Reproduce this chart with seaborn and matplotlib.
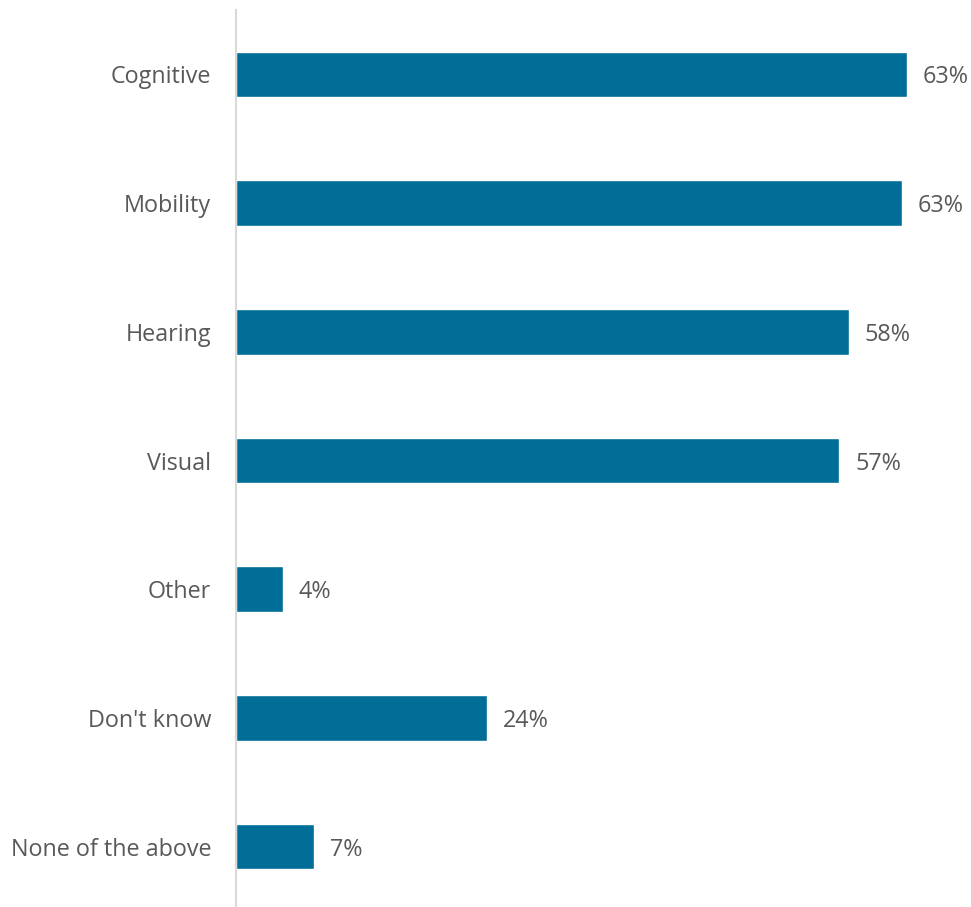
import matplotlib
matplotlib.use("Agg")
import matplotlib.pyplot as plt
import seaborn as sns
import pandas as pd

# Survey responses: share of respondents per disability type (%)
categories = ["Cognitive", "Mobility", "Hearing", "Visual", "Other",
              "Don't know", "None of the above"]
values = [63.4, 62.9, 57.9, 57.0, 4.4, 23.7, 7.4]

df = pd.DataFrame({"category": categories, "value": values})

sns.set_theme(style="white")
plt.rcParams["font.family"] = ["Open Sans", "DejaVu Sans"]

fig = plt.figure(figsize=(9.71, 9.07), dpi=100)
ax = fig.add_axes([236 / 971, -4 / 907, 719.5 / 971, 901 / 907])

bar_color = "#006E96"
text_color = "#595959"

sns.barplot(data=df, x="value", y="category", orient="h", color=bar_color,
            width=0.355, saturation=1, ax=ax)

ax.set_xlim(0, 68)
ax.set_ylim(6.5, -0.5)

for patch, v in zip(ax.patches, values):
    y = patch.get_y() + patch.get_height() / 2
    ax.annotate(f"{round(v):d}%", xy=(patch.get_width(), y),
                xytext=(11.5, 0), textcoords="offset points",
                ha="left", va="center_baseline", fontsize=16.8,
                color=text_color, annotation_clip=False)

ax.set_xlabel("")
ax.set_ylabel("")
ax.set_xticks([])
ax.tick_params(axis="y", length=0, pad=18, labelsize=16.8, labelcolor=text_color)

for side in ["top", "right", "bottom"]:
    ax.spines[side].set_visible(False)
ax.spines["left"].set_color("#D9D9D9")
ax.spines["left"].set_linewidth(1.5)

fig.savefig("out.png", dpi=100, facecolor="white")
